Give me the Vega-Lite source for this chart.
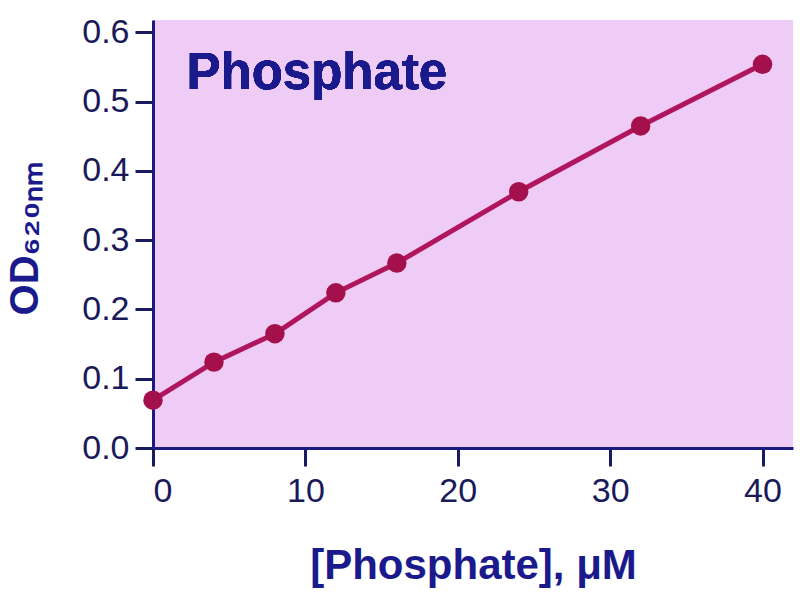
{
  "$schema": "https://vega.github.io/schema/vega-lite/v6.json",
  "autosize": {"type": "none"},
  "width": 640,
  "height": 428,
  "padding": {"left": 153, "top": 20, "right": 7, "bottom": 152},
  "background": "white",
  "config": {
    "view": {"fill": "#efccf5", "stroke": null},
    "font": "Liberation Sans"
  },
  "data": {
    "values": [
      {"conc": 0, "od": 0.069},
      {"conc": 4, "od": 0.124},
      {"conc": 8, "od": 0.165},
      {"conc": 12, "od": 0.224},
      {"conc": 16, "od": 0.267},
      {"conc": 24, "od": 0.37},
      {"conc": 32, "od": 0.465},
      {"conc": 40, "od": 0.554}
    ]
  },
  "layer": [
    {
      "mark": {"type": "line", "color": "#b0165e", "strokeWidth": 5},
      "encoding": {
        "x": {
          "field": "conc", "type": "quantitative",
          "scale": {"domain": [0, 42], "nice": false, "zero": false},
          "axis": {
            "values": [0, 10, 20, 30, 40],
            "grid": false,
            "domainColor": "#1a1a80", "domainWidth": 3,
            "tickColor": "#1a1a60", "tickWidth": 3, "tickSize": 18,
            "labelFontSize": 34, "labelColor": "#1a1a5a", "labelPadding": 8,
            "title": "[Phosphate], μM",
            "titleFontSize": 42, "titleFontWeight": "bold", "titleColor": "#1a1a8c",
            "titleY": 117, "titleBaseline": "middle"
          }
        },
        "y": {
          "field": "od", "type": "quantitative",
          "scale": {"domain": [0, 0.618], "nice": false},
          "axis": {
            "values": [0, 0.1, 0.2, 0.3, 0.4, 0.5, 0.6],
            "format": ".1f",
            "grid": false,
            "domainColor": "#1a1a80", "domainWidth": 3,
            "tickColor": "#1a1a60", "tickWidth": 3, "tickSize": 18,
            "labelFontSize": 34, "labelColor": "#1a1a5a", "labelPadding": 6,
            "title": "OD₆₂₀ₙₘ",
            "titleFontSize": 40, "titleFontWeight": "bold", "titleColor": "#1a1a8c",
            "titleAngle": -90, "titleX": -128, "titleY": 218,
            "titleAlign": "center", "titleBaseline": "middle"
          }
        }
      }
    },
    {
      "mark": {"type": "point", "filled": true, "color": "#a3104c", "size": 380, "opacity": 1},
      "encoding": {
        "x": {"field": "conc", "type": "quantitative"},
        "y": {"field": "od", "type": "quantitative"}
      }
    },
    {
      "mark": {"type": "text", "text": "Phosphate", "fontSize": 51, "fontWeight": "bold", "color": "#1a1a8c", "align": "left", "baseline": "middle"},
      "encoding": {
        "x": {"datum": 2.2, "type": "quantitative"},
        "y": {"datum": 0.54, "type": "quantitative"}
      }
    }
  ]
}
